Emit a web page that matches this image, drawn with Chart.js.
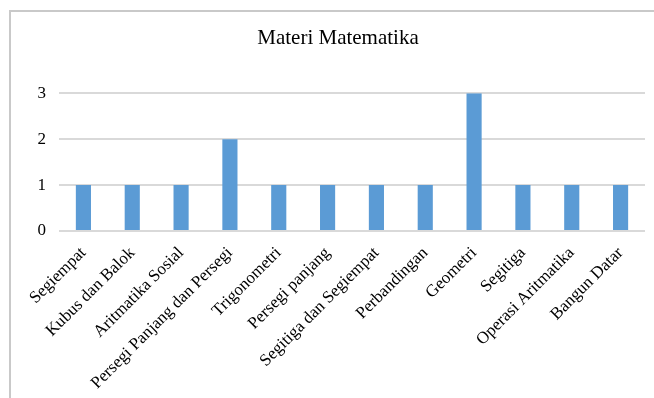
<!DOCTYPE html>
<html>
<head>
<meta charset="utf-8">
<script src="https://cdn.jsdelivr.net/npm/chart.js@4"></script>
<style>
  html, body { margin: 0; padding: 0; background: #fff; }
  #wrap { position: relative; width: 654px; height: 398px; overflow: hidden; }
  #frame { position: absolute; left: 9px; top: 10px; width: 700px; height: 450px;
           border-left: 2px solid #c9c9c9; border-top: 2px solid #c9c9c9; }
  canvas { position: absolute; left: 0; top: 0; }
</style>
</head>
<body>
<div id="wrap">
  <div id="frame"></div>
  <canvas id="c" width="654" height="398"></canvas>
</div>
<script>
const titleText = "Materi Matematika";
const categories = ["Segiempat", "Kubus dan Balok", "Aritmatika Sosial", "Persegi Panjang dan Persegi",
  "Trigonometri", "Persegi panjang", "Segitiga dan Segiempat", "Perbandingan", "Geometri",
  "Segitiga", "Operasi Aritmatika", "Bangun Datar"];
const counts = [1, 1, 1, 2, 1, 1, 1, 1, 3, 1, 1, 1];
const yTicks = [0, 1, 2, 3];

const serif = "'Liberation Serif', 'Times New Roman', serif";

new Chart(document.getElementById('c'), {
  type: 'bar',
  data: {
    labels: categories,
    datasets: [{
      data: counts,
      backgroundColor: '#5b9bd5',
      borderWidth: 0,
      barPercentage: 0.31,
      categoryPercentage: 1.0
    }]
  },
  options: {
    responsive: false,
    animation: false,
    devicePixelRatio: 1,
    layout: { padding: { left: 31, right: 9, top: 0, bottom: 0 } },
    plugins: {
      legend: { display: false },
      tooltip: { enabled: false },
      title: {
        display: true,
        text: titleText,
        color: '#000',
        font: { family: serif, size: 21, weight: 'normal', lineHeight: 1.2 },
        padding: { top: 26, bottom: 42 }
      }
    },
    scales: {
      x: {
        grid: { display: false, drawTicks: false },
        border: { display: false },
        ticks: {
          color: '#000',
          font: { family: serif, size: 17 },
          minRotation: 45, maxRotation: 45,
          autoSkip: false,
          padding: 12
        },
        afterFit: (s) => { s.height = 398 - 231; }
      },
      y: {
        min: 0, max: 3,
        afterBuildTicks: (s) => { s.ticks = yTicks.map(v => ({ value: v })); },
        grid: { color: '#d9d9d9', lineWidth: 2, drawTicks: false },
        border: { display: false },
        ticks: {
          color: '#000',
          font: { family: serif, size: 17 },
          padding: 13
        },
        afterFit: (s) => { s.width = 28; }
      }
    }
  }
});
</script>
</body>
</html>
